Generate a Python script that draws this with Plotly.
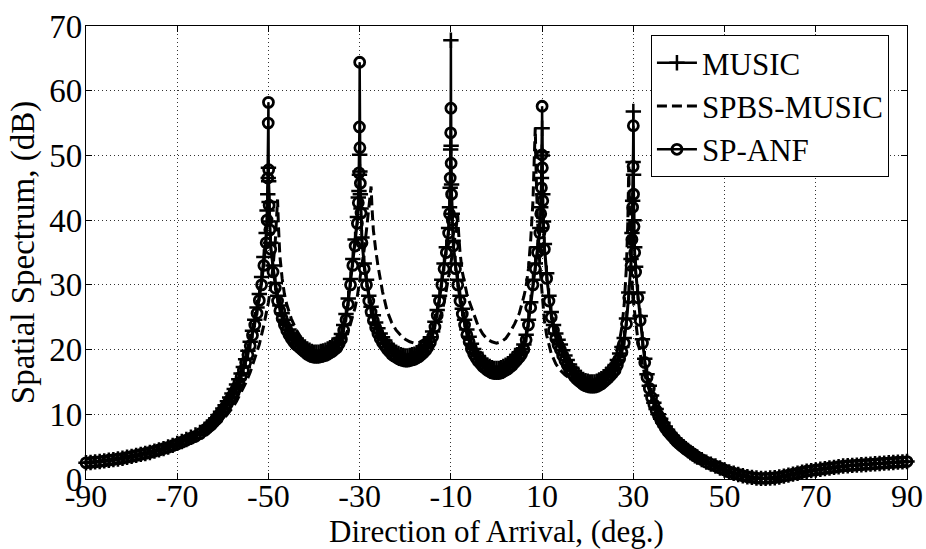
import plotly.graph_objects as go

# ---------------- data ----------------
doa_main = [
    -90, -89, -88, -87, -86, -85, -84, -83, -82, -81, -80, -79, -78, -77, -76, -75, -74, -73, -72, -71,
    -70, -69, -68, -67, -66, -65,
    -64, -63.5, -63, -62.5, -62, -61.5, -61, -60.5, -60, -59.5, -59, -58.5, -58, -57.5, -57, -56.5, -56,
    -55.5, -55, -54.5, -54,
    -53.5, -53, -52.5, -52, -51.5, -51, -50.5,
    -50.3, -50.15, -50.05, -50, -49.95, -49.85, -49.7,
    -49.5, -49, -48.5, -48, -47.5, -47, -46.5,
    -46, -45.5, -45, -44.5, -44, -43.5, -43, -42.5, -42, -41.5, -41, -40.5, -40,
    -39.5, -39, -38.5, -38, -37.5, -37, -36.5, -36, -35.5, -35, -34.5, -34,
    -33.5, -33, -32.5, -32, -31.5, -31, -30.5,
    -30.3, -30.15, -30.05, -30, -29.95, -29.85, -29.7,
    -29.5, -29, -28.5, -28, -27.5, -27, -26.5,
    -26, -25.5, -25, -24.5, -24, -23.5, -23, -22.5, -22, -21.5, -21, -20.5, -20,
    -19.5, -19, -18.5, -18, -17.5, -17, -16.5, -16, -15.5, -15, -14.5, -14,
    -13.5, -13, -12.5, -12, -11.5, -11, -10.5,
    -10.3, -10.15, -10.05, -10, -9.95, -9.85, -9.7,
    -9.5, -9, -8.5, -8, -7.5, -7, -6.5,
    -6, -5.5, -5, -4.5, -4, -3.5, -3, -2.5, -2, -1.5, -1, -0.5, 0,
    0.5, 1, 1.5, 2, 2.5, 3, 3.5, 4, 4.5, 5, 5.5, 6,
    6.5, 7, 7.5, 8, 8.5, 9, 9.5,
    9.7, 9.85, 9.95, 10, 10.05, 10.15, 10.3,
    10.5, 11, 11.5, 12, 12.5, 13, 13.5,
    14, 14.5, 15, 15.5, 16, 16.5, 17, 17.5, 18, 18.5, 19, 19.5, 20,
    20.5, 21, 21.5, 22, 22.5, 23, 23.5, 24, 24.5, 25, 25.5, 26,
    26.5, 27, 27.5, 28, 28.5, 29, 29.5,
    29.7, 29.85, 29.95, 30, 30.05, 30.15, 30.3,
    30.5, 31, 31.5, 32, 32.5, 33, 33.5,
    34, 34.5, 35, 35.5, 36, 36.5, 37, 37.5, 38, 38.5, 39, 39.5, 40, 40.5, 41, 41.5, 42, 42.5, 43, 43.5, 44,
    45, 46, 47, 48, 49, 50, 51, 52, 53, 54, 55, 56, 57, 58, 59, 60, 61, 62, 63, 64, 65, 66, 67,
    68, 69, 70, 71, 72, 73, 74, 75, 76, 77, 78, 79, 80, 81, 82, 83, 84, 85, 86, 87, 88, 89, 90,
]

music_db = [
    2.5, 2.55, 2.65, 2.7, 2.8, 2.9, 3.0, 3.1, 3.2, 3.35, 3.5, 3.65, 3.8, 3.95, 4.1, 4.3, 4.5, 4.7, 4.95, 5.2,
    5.5, 5.8, 6.1, 6.45, 6.8, 7.2,
    7.7, 8.0, 8.3, 8.6, 9.0, 9.4, 9.9, 10.4, 10.9, 11.4, 12.0, 12.6, 13.2, 13.9, 14.6, 15.4, 16.3,
    17.3, 18.5, 19.8, 21.2,
    22.9, 24.6, 26.5, 28.6, 31.2, 34.3, 38.0,
    41.5, 44.0, 46.5, 48.1, 46.0, 42.8, 39.8,
    36.5, 33.0, 30.3, 28.3, 26.8, 25.6, 24.6,
    23.8, 23.1, 22.5, 22.0, 21.6, 21.3, 21.0, 20.7, 20.4, 20.1, 19.9, 19.7, 19.6,
    19.6, 19.6, 19.7, 19.8, 19.9, 20.1, 20.3, 20.5, 20.8, 21.1, 21.7, 22.4,
    23.8, 25.5, 27.9, 30.9, 34.0, 37.0, 40.5,
    43.5, 44.5, 47.0, 50.1, 47.5, 44.0, 41.8,
    37.3, 33.3, 30.8, 28.3, 26.6, 25.3, 24.2,
    23.3, 22.5, 21.9, 21.4, 20.9, 20.5, 20.1, 19.8, 19.6, 19.4, 19.2, 19.1, 19.0,
    19.0, 19.1, 19.2, 19.3, 19.5, 19.7, 20.0, 20.3, 20.7, 21.2, 21.9, 22.8,
    24.3, 26.1, 28.3, 30.8, 33.3, 35.8, 38.8,
    42.0, 45.0, 50.9, 67.8, 51.5, 45.5, 41.0,
    36.8, 33.3, 30.8, 28.3, 26.3, 24.6, 23.1,
    22.0, 20.9, 20.1, 19.5, 19.0, 18.6, 18.2, 17.9, 17.6, 17.4, 17.2, 17.1, 17.1,
    17.1, 17.2, 17.4, 17.6, 17.8, 18.1, 18.4, 18.8, 19.2, 19.6, 20.1, 20.8,
    22.3, 24.6, 27.3, 30.8, 33.3, 35.8, 38.8,
    42.0, 46.5, 50.5, 54.2, 50.0, 44.0, 39.8,
    36.3, 31.8, 28.3, 25.8, 23.8, 22.5, 21.5,
    20.8, 19.9, 19.1, 18.4, 17.7, 17.2, 16.7, 16.3, 16.0, 15.7, 15.4, 15.2, 15.1,
    15.0, 15.0, 15.0, 15.1, 15.3, 15.5, 15.8, 16.1, 16.4, 16.8, 17.2, 17.6,
    18.4, 19.4, 20.4, 21.8, 24.8, 28.8, 34.0,
    38.0, 43.0, 49.0, 56.8, 47.0, 40.0, 35.8,
    32.8, 28.8, 25.2, 21.6, 18.6, 16.2, 14.4,
    12.9, 11.8, 10.8, 10.0, 9.3, 8.7, 8.1, 7.6, 7.1, 6.7, 6.3, 5.9, 5.6, 5.3, 5.0, 4.7, 4.4, 4.1, 3.9, 3.6, 3.4,
    3.0, 2.6, 2.3, 2.0, 1.7, 1.4, 1.1, 0.9, 0.7, 0.5, 0.35, 0.25, 0.15, 0.1, 0.1, 0.15, 0.2, 0.3, 0.45, 0.6, 0.75, 0.9, 1.05,
    1.2, 1.3, 1.4, 1.5, 1.6, 1.7, 1.8, 1.9, 2.0, 2.05, 2.1, 2.15, 2.2, 2.25, 2.3, 2.35, 2.4, 2.45, 2.5, 2.55, 2.6, 2.65, 2.7,
]

sp_anf_db = [
    2.5, 2.55, 2.65, 2.7, 2.8, 2.9, 3.0, 3.1, 3.2, 3.35, 3.5, 3.65, 3.8, 3.95, 4.1, 4.3, 4.5, 4.7, 4.9, 5.15,
    5.4, 5.7, 6.0, 6.3, 6.6, 7.0,
    7.5, 7.8, 8.1, 8.4, 8.8, 9.2, 9.6, 10.1, 10.6, 11.1, 11.6, 12.2, 12.8, 13.4, 14.1, 14.9, 15.8,
    16.8, 18.0, 19.2, 20.6,
    22.2, 23.8, 25.6, 27.6, 30.0, 33.0, 36.5,
    40.0, 46.5, 55.0, 58.2, 47.8, 42.3, 38.5,
    35.5, 32.0, 29.5, 27.5, 26.0, 24.8, 23.8,
    23.0, 22.3, 21.7, 21.2, 20.8, 20.5, 20.2, 19.9, 19.6, 19.3, 19.1, 18.9, 18.8,
    18.8, 18.8, 18.9, 19.0, 19.1, 19.3, 19.5, 19.7, 20.0, 20.3, 20.9, 21.6,
    23.0, 24.6, 27.0, 30.0, 33.0, 36.0, 39.5,
    42.7, 47.3, 54.4, 64.4, 51.2, 45.7, 41.1,
    36.5, 32.5, 30.0, 27.5, 25.8, 24.5, 23.4,
    22.5, 21.7, 21.1, 20.6, 20.1, 19.7, 19.3, 19.0, 18.8, 18.6, 18.4, 18.3, 18.2,
    18.2, 18.3, 18.4, 18.5, 18.7, 18.9, 19.2, 19.5, 19.9, 20.4, 21.1, 22.0,
    23.5, 25.3, 27.5, 30.0, 32.5, 35.0, 38.0,
    41.0, 46.5, 53.5, 57.3, 48.8, 44.0, 40.0,
    36.0, 32.5, 30.0, 27.5, 25.5, 23.8, 22.3,
    21.2, 20.1, 19.3, 18.7, 18.2, 17.8, 17.4, 17.1, 16.8, 16.6, 16.4, 16.3, 16.3,
    16.3, 16.4, 16.6, 16.8, 17.0, 17.3, 17.6, 18.0, 18.4, 18.8, 19.3, 20.0,
    21.5, 23.8, 26.5, 30.0, 32.5, 35.0, 38.0,
    41.0, 45.0, 50.1, 57.6, 48.1, 43.0, 39.0,
    35.5, 31.0, 27.5, 25.0, 23.0, 21.7, 20.7,
    20.0, 19.1, 18.3, 17.6, 16.9, 16.4, 15.9, 15.5, 15.2, 14.9, 14.6, 14.4, 14.3,
    14.2, 14.2, 14.2, 14.3, 14.5, 14.7, 15.0, 15.3, 15.6, 16.0, 16.4, 16.8,
    17.6, 18.6, 19.6, 21.0, 24.0, 28.0, 33.0,
    37.0, 42.0, 48.3, 54.6, 44.0, 39.0, 35.0,
    32.0, 28.0, 24.5, 21.0, 18.0, 15.7, 14.0,
    12.6, 11.5, 10.6, 9.8, 9.1, 8.5, 7.9, 7.4, 7.0, 6.6, 6.2, 5.8, 5.5, 5.2, 4.9, 4.6, 4.4, 4.1, 3.9, 3.6, 3.4,
    3.0, 2.6, 2.3, 2.0, 1.7, 1.4, 1.1, 0.9, 0.7, 0.5, 0.35, 0.25, 0.15, 0.1, 0.1, 0.15, 0.2, 0.3, 0.45, 0.6, 0.75, 0.9, 1.05,
    1.2, 1.3, 1.4, 1.5, 1.6, 1.7, 1.8, 1.9, 2.0, 2.05, 2.1, 2.15, 2.2, 2.25, 2.3, 2.35, 2.4, 2.45, 2.5, 2.55, 2.6, 2.65, 2.7,
]

doa_spbs = [
    -90, -88, -86, -84, -82, -80, -78, -76, -74, -72, -70, -68, -66, -64, -62, -60,
    -59, -58, -57, -56, -55, -54, -53, -52, -51, -50,
    -49.5, -49, -48.5, -48.2, -48, -47.8, -47.5, -47, -46.5, -46,
    -45, -44, -43, -42, -41, -40, -39, -38, -37, -36, -35, -34, -33, -32, -31,
    -30.5, -30, -29.5, -29, -28.5, -28, -27.7, -27.5, -27.3, -27, -26.5, -26,
    -25, -24, -23, -22, -21, -20, -19, -18, -17, -16, -15, -14, -13,
    -12.5, -12, -11.5, -11, -10.5, -10, -9.5, -9, -8.7, -8.5, -8.3, -8, -7.5, -7, -6.5, -6,
    -5, -4, -3, -2, -1, 0, 1, 2, 3, 4, 5,
    5.5, 6, 6.5, 7, 7.5, 8, 8.3, 8.5, 8.7, 9, 9.5, 10, 10.5, 11, 11.5, 12,
    13, 14, 15, 16, 17, 18, 19, 20, 21, 22, 23, 24, 25, 26, 27,
    27.5, 28, 28.5, 28.8, 29, 29.2, 29.5, 30, 30.5, 31, 31.5, 32,
    33, 34, 35, 36, 37, 38, 39, 40,
    42, 44, 46, 48, 50, 52, 54, 56, 58, 60, 62, 64, 66, 68, 70, 72, 74, 76, 78, 80, 82, 84, 86, 88, 90,
]

spbs_music_db = [
    2.45, 2.6, 2.75, 2.95, 3.15, 3.4, 3.7, 4.0, 4.35, 4.75, 5.15, 5.65, 6.2, 6.9, 7.8, 9.1,
    10.0, 10.9, 12.0, 13.3, 14.8, 16.5, 18.5, 20.8, 23.8, 27.3,
    29.8, 32.8, 36.8, 40.5, 43.2, 39.0, 34.5, 31.0, 28.6, 27.0,
    24.8, 23.2, 22.0, 21.1, 20.4, 19.9, 19.7, 19.7, 19.9, 20.3, 20.8, 21.5, 22.4, 24.0, 26.5,
    28.3, 30.5, 33.0, 35.5, 38.5, 41.5, 43.5, 45.2, 42.0, 38.5, 35.5, 33.0,
    29.0, 26.0, 24.2, 23.0, 22.2, 21.6, 21.2, 21.0, 21.1, 21.5, 22.2, 23.2, 24.2,
    24.8, 25.8, 27.2, 29.2, 31.2, 33.3, 35.5, 38.0, 39.5, 40.8, 38.0, 35.0, 32.0, 30.0, 28.6, 27.5,
    25.5, 23.6, 22.4, 21.6, 21.2, 21.0, 21.2, 21.7, 22.7, 24.0, 25.6,
    26.8, 28.2, 29.8, 32.5, 37.0, 43.0, 50.0, 54.3, 47.0, 40.0, 33.0, 28.0, 24.5, 22.2, 20.6, 19.4,
    17.8, 16.8, 16.1, 15.6, 15.3, 15.1, 15.0, 15.0, 15.2, 15.5, 15.9, 16.6, 17.6, 19.0, 21.5,
    23.5, 27.0, 33.0, 40.0, 48.3, 40.0, 33.0, 27.5, 24.0, 21.5, 19.3, 17.6,
    14.8, 12.6, 10.8, 9.3, 8.1, 7.1, 6.3, 5.6,
    4.5, 3.5, 2.6, 1.9, 1.3, 0.8, 0.45, 0.2, 0.1, 0.15, 0.3, 0.55, 0.85, 1.15, 1.4, 1.6, 1.8, 1.95, 2.1,
    2.2, 2.3, 2.4, 2.5, 2.6, 2.7,
]

x_ticks = [-90, -70, -50, -30, -10, 10, 30, 50, 70, 90]
y_ticks = [0, 10, 20, 30, 40, 50, 60, 70]

assert len(doa_main) == len(music_db) == len(sp_anf_db), (len(doa_main), len(music_db), len(sp_anf_db))
assert len(doa_spbs) == len(spbs_music_db), (len(doa_spbs), len(spbs_music_db))

# ---------------- figure ----------------
FONT = "Liberation Serif"

fig = go.Figure()
fig.add_trace(go.Scatter(
    x=doa_main, y=music_db, name="MUSIC", mode="lines+markers",
    line=dict(color="black", width=2.5),
    marker=dict(symbol="cross-thin-open", size=11, color="black", line=dict(color="black", width=2.5)),
    cliponaxis=False,
))
fig.add_trace(go.Scatter(
    x=doa_spbs, y=spbs_music_db, name="SPBS-MUSIC", mode="lines",
    line=dict(color="black", width=3, dash="10px,5px"),
    cliponaxis=False,
))
fig.add_trace(go.Scatter(
    x=doa_main, y=sp_anf_db, name="SP-ANF", mode="lines+markers",
    line=dict(color="black", width=2.5),
    marker=dict(symbol="circle-open", size=10, color="black", line=dict(color="black", width=2.8)),
    cliponaxis=False,
))

axis_common = dict(
    showline=True, linecolor="black", linewidth=1.2, mirror="allticks",
    ticks="inside", ticklen=6, tickcolor="black", tickwidth=1,
    showgrid=True, gridcolor="#333", gridwidth=1, griddash="1px,3px",
    zeroline=False,
)

fig.update_xaxes(
    range=[-90, 90], tickvals=x_ticks, ticktext=[str(v) for v in x_ticks],
    tickfont=dict(family=FONT, size=32, color="black"),
    ticklabelstandoff=-12,
    title=dict(text="Direction of Arrival, (deg.)", font=dict(family=FONT, size=31, color="black"), standoff=14),
    **axis_common,
)
fig.update_yaxes(
    range=[0, 70], tickvals=y_ticks, ticktext=[str(v) for v in y_ticks],
    tickfont=dict(family=FONT, size=33, color="black"),
    ticklabelstandoff=-4,
    title=dict(text="Spatial Spectrum, (dB)", font=dict(family=FONT, size=33, color="black"), standoff=4),
    **axis_common,
)

fig.update_layout(
    width=926, height=549,
    margin=dict(l=86, r=19, t=26, b=70, autoexpand=False),
    paper_bgcolor="white", plot_bgcolor="white",
    font=dict(family=FONT, size=32, color="black"),
    showlegend=True,
    legend=dict(
        x=0.978, y=0.98, xanchor="right", yanchor="top",
        bgcolor="white", bordercolor="black", borderwidth=1,
        font=dict(family=FONT, size=31, color="black"),
        itemwidth=40, tracegroupgap=0,
    ),
)

fig.write_html("out.html")
